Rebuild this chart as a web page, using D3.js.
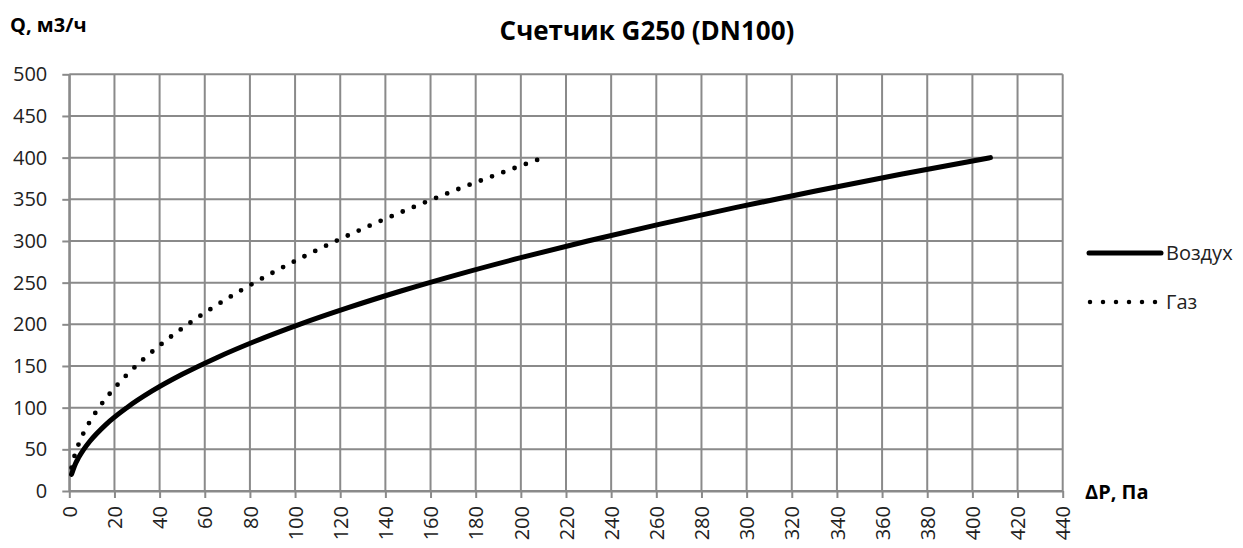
<!DOCTYPE html>
<html>
<head>
<meta charset="utf-8">
<script src="https://cdn.jsdelivr.net/npm/d3@7"></script>
<style>
    body { margin: 0; background: #fff; }
    svg { font-family: "Open Sans", sans-serif; }
</style>
</head>
<body>
<svg id="chart" width="1243" height="548"></svg>
<script>

// Воздух (air) — dP, Pa and Q, m3/h
var airDP = [1.0, 2.3, 4.1, 6.4, 9.2, 16.3, 25.5, 36.7, 50.0, 65.3, 82.6, 102.0, 123.5, 146.9, 172.4, 200.0, 229.6, 261.2, 294.9, 330.6, 368.3, 408.0];
var airQ  = [20, 30, 40, 50, 60, 80, 100, 120, 140, 160, 180, 200, 220, 240, 260, 280, 300, 320, 340, 360, 380, 400];

// Газ (gas)
var gasDP = [1.0, 2.1, 4.7, 8.4, 13.1, 18.9, 25.7, 33.6, 42.5, 52.5, 63.5, 75.6, 88.7, 102.9, 118.1, 134.4, 151.8, 170.1, 189.6, 210.0];
var gasQ  = [28, 40, 60, 80, 100, 120, 140, 160, 180, 200, 220, 240, 260, 280, 300, 320, 340, 360, 380, 400];

var xTicks = d3.range(0, 441, 20);
var yTicks = d3.range(0, 501, 50);

var seriesNames = ["Воздух", "Газ"];
var title = "Счетчик G250 (DN100)";
var yTitle = "Q, м3/ч";
var xTitle = "ΔP, Па";

var svg = d3.select("#chart");
var gridColor = "#8a8a8a";

var x = d3.scaleLinear().domain([0, 440]).range([69.3, 1062.7]);
var y = d3.scaleLinear().domain([0, 500]).range([491, 74.3]);

// grid
var grid = svg.append("g").attr("stroke", gridColor).attr("stroke-width", 2);
grid.selectAll(".hg").data(yTicks).enter().append("line")
    .attr("x1", x(0)).attr("x2", x(440))
    .attr("y1", function(d) { return y(d); })
    .attr("y2", function(d) { return y(d); });
grid.selectAll(".vg").data(xTicks).enter().append("line")
    .attr("y1", y(0)).attr("y2", y(500))
    .attr("x1", function(d) { return x(d); })
    .attr("x2", function(d) { return x(d); });

// axes
var yAxis = svg.append("g")
    .attr("transform", "translate(" + x(0) + ",0)")
    .call(d3.axisLeft(y).tickValues(yTicks).tickSize(7).tickSizeOuter(0).tickPadding(15));
var xAxis = svg.append("g")
    .attr("transform", "translate(0," + y(0) + ")")
    .call(d3.axisBottom(x).tickValues(xTicks).tickSize(7).tickSizeOuter(0));

[yAxis, xAxis].forEach(function(a) {
    a.select(".domain").attr("stroke", gridColor).attr("stroke-width", 2);
    a.selectAll(".tick line").attr("stroke", gridColor).attr("stroke-width", 2);
    a.selectAll("text").attr("fill", "#222").style("font-size", "20px")
        .style("font-family", "'Open Sans', sans-serif");
});

xAxis.selectAll("text")
    .attr("transform", "rotate(-90)")
    .attr("x", -15)
    .attr("y", 0)
    .attr("dy", "0.36em")
    .style("text-anchor", "end");

// lines
var line = d3.line()
    .x(function(d) { return x(d[0]); })
    .y(function(d) { return y(d[1]); })
    .curve(d3.curveMonotoneX);

var gasPts = gasDP.map(function(d, i) { return [d, gasQ[i]]; });
var airPts = airDP.map(function(d, i) { return [d, airQ[i]]; });

svg.append("path").datum(gasPts)
    .attr("d", line)
    .attr("fill", "none")
    .attr("stroke", "#000")
    .attr("stroke-width", 4.8)
    .attr("stroke-linecap", "round")
    .attr("stroke-dasharray", "0,12");

svg.append("path").datum(airPts)
    .attr("d", line)
    .attr("fill", "none")
    .attr("stroke", "#000")
    .attr("stroke-width", 5)
    .attr("stroke-linecap", "round");

// legend
var legend = svg.append("g");
legend.append("line")
    .attr("x1", 1089).attr("x2", 1161).attr("y1", 253).attr("y2", 253)
    .attr("stroke", "#000").attr("stroke-width", 5).attr("stroke-linecap", "round");
legend.append("line")
    .attr("x1", 1090).attr("x2", 1158).attr("y1", 302).attr("y2", 302)
    .attr("stroke", "#000").attr("stroke-width", 4.5).attr("stroke-linecap", "round")
    .attr("stroke-dasharray", "0,13");
legend.selectAll("text").data(seriesNames).enter().append("text")
    .attr("x", 1166)
    .attr("y", function(d, i) { return i ? 309 : 260; })
    .attr("fill", "#222")
    .style("font-size", "20px")
    .text(function(d) { return d; });

// titles
svg.append("text")
    .attr("x", 647).attr("y", 40)
    .attr("text-anchor", "middle")
    .style("font-size", "26px").style("font-weight", "bold")
    .text(title);
svg.append("text")
    .attr("x", 10).attr("y", 32)
    .style("font-size", "20px").style("font-weight", "bold")
    .text(yTitle);
svg.append("text")
    .attr("x", 1085).attr("y", 499)
    .style("font-size", "20px").style("font-weight", "bold")
    .text(xTitle);

</script>
</body>
</html>
